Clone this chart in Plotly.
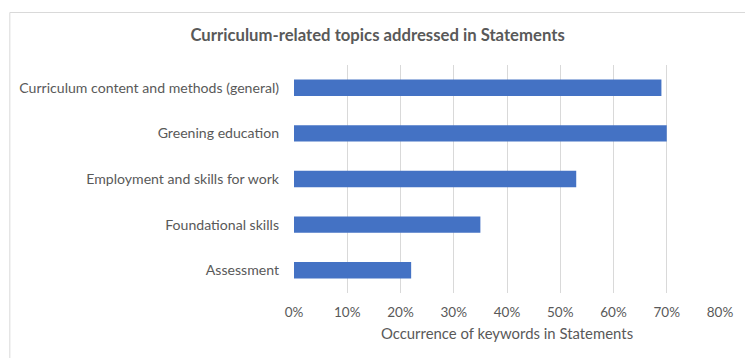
import plotly.graph_objects as go

# Topic categories, top to bottom as shown
topics = [
    "Curriculum content and methods (general)",
    "Greening education",
    "Employment and skills for work",
    "Foundational skills",
    "Assessment",
]
# Share of Statements mentioning each topic
occurrence = [0.69, 0.70, 0.53, 0.35, 0.22]

x_ticks = [0, 0.1, 0.2, 0.3, 0.4, 0.5, 0.6, 0.7, 0.8]

W, H = 745, 358
L, R, T, B = 294, 23, 65, 65
pw, ph = W - L - R, H - T - B

def px_to_paper_x(px):
    return (px - L) / pw

def px_to_paper_y(py):
    return (H - B - py) / ph

text_color = "#595959"
font_family = "Lato, Open Sans, sans-serif"

fig = go.Figure(
    go.Bar(
        x=occurrence,
        y=topics,
        orientation="h",
        width=0.36,
        marker=dict(color="#4472C4", line=dict(width=0)),
        hoverinfo="x+y",
    )
)

fig.update_layout(
    width=W,
    height=H,
    margin=dict(l=L, r=R, t=T, b=B),
    paper_bgcolor="white",
    plot_bgcolor="white",
    showlegend=False,
    font=dict(family=font_family, size=14, color=text_color),
    title=dict(
        text="Curriculum-related topics addressed in Statements",
        x=px_to_paper_x(378),
        xref="paper",
        xanchor="center",
        y=1 - 35 / H,
        yanchor="middle",
        font=dict(family=font_family, size=16.7, color="#595959", weight=700),
    ),
    xaxis=dict(
        range=[0, 0.8],
        tickvals=x_ticks,
        tickformat=".0%",
        showgrid=True,
        gridcolor="#d9d9d9",
        gridwidth=1,
        zeroline=False,
        showline=False,
        ticks="",
        ticklabelstandoff=9,
        tickfont=dict(size=13.5, color=text_color),
        title=dict(
            text="Occurrence of keywords in Statements",
            font=dict(size=14.9, color=text_color),
            standoff=10,
        ),
        fixedrange=True,
    ),
    yaxis=dict(
        categoryorder="array",
        categoryarray=topics[::-1],
        showgrid=False,
        zeroline=False,
        showline=False,
        ticks="",
        ticklabelstandoff=14,
        tickfont=dict(size=14.1, color=text_color),
        fixedrange=True,
    ),
    shapes=[
        dict(
            type="rect",
            xref="paper",
            yref="paper",
            x0=px_to_paper_x(8.5),
            x1=px_to_paper_x(760),
            y0=px_to_paper_y(370),
            y1=px_to_paper_y(12.5),
            line=dict(color="#d9d9d9", width=1),
            fillcolor="rgba(0,0,0,0)",
            layer="below",
        )
    ],
)

fig.write_html("out.html")
